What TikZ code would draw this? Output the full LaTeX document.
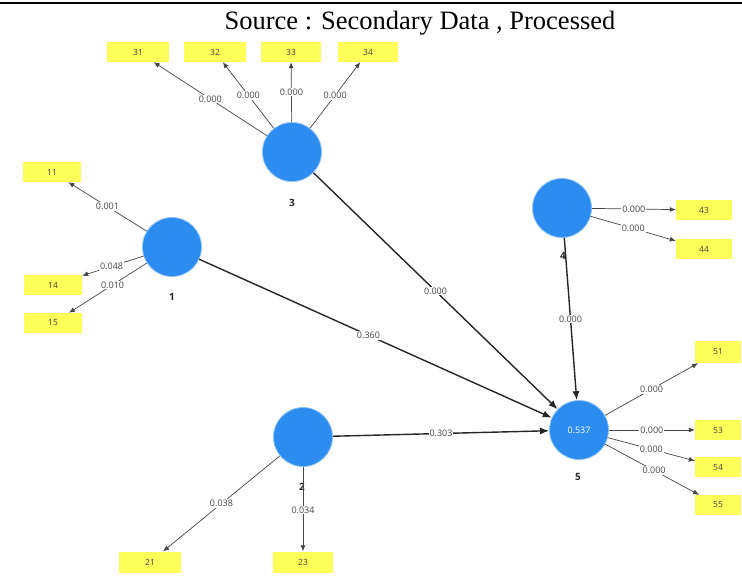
\documentclass[tikz,border=0pt]{standalone}
\usepackage{fontspec}
\setmainfont{Liberation Serif}
\newfontfamily\plsfont{Open Sans}
\usetikzlibrary{arrows.meta}
\definecolor{lvblue}{RGB}{45,140,240}
\definecolor{lvrim}{RGB}{140,195,250}
\definecolor{indyellow}{RGB}{255,255,90}
\definecolor{edgegray}{RGB}{70,70,70}
\begin{document}
\begin{tikzpicture}[x=1pt,y=-1pt,
  lv/.style={circle, fill=lvblue, draw=lvrim, line width=0.8pt, minimum size=59pt, inner sep=0pt},
  ind/.style={rectangle, fill=indyellow, minimum height=20pt, minimum width=58pt, inner sep=0pt,
              font=\plsfont\fontsize{8.5}{9}\selectfont, text=black!75},
  loadarrow/.style={draw=edgegray, line width=0.7pt, -{Latex[length=6pt,width=5pt]}},
  structarrow/.style={draw=black!85, line width=1.4pt, -{Latex[length=9pt,width=7pt]}},
  val/.style={fill=white, inner sep=1pt, font=\plsfont\fontsize{9}{10}\selectfont, text=black!72},
  lvname/.style={font=\plsfont\bfseries\fontsize{10}{11}\selectfont, text=black!85}]
\useasboundingbox (0,0) rectangle (742,577);
\fill[white] (0,0) rectangle (742,577);
\draw[line width=2.5pt] (0,3) -- (742,3);
\node[anchor=base, font=\fontsize{26.5}{28}\selectfont] (title) at (420,30) {Source : Secondary Data , Processed};

% latent variables
\node[lv] (c1) at (172,247) {};
\node[lv] (c2) at (303,437) {};
\node[lv] (c3) at (292,152) {};
\node[lv] (c4) at (562,208) {};
\node[lv, text=white, font=\plsfont\fontsize{9}{10}\selectfont] (c5) at (579,430) {0.537};

\node[lvname] (n1) at (172,297) {1};
\node[lvname] (n2) at (302,487) {2};
\node[lvname] (n3) at (292,203) {3};
\node[lvname] (n4) at (563,256) {4};
\node[lvname] (n5) at (578,477) {5};

% indicators
\node[ind, minimum width=62pt] (b31) at (138,52) {31};
\node[ind, minimum width=62pt] (b32) at (215,52) {32};
\node[ind, minimum width=60pt] (b33) at (291,52) {33};
\node[ind, minimum width=60pt] (b34) at (368,52) {34};
\node[ind] (b11) at (52,172) {11};
\node[ind] (b14) at (53,285) {14};
\node[ind] (b15) at (53,323) {15};
\node[ind, minimum width=56pt] (b43) at (704,210) {43};
\node[ind, minimum width=56pt] (b44) at (704,249) {44};
\node[ind, minimum width=46pt, minimum height=22pt] (b51) at (718,352) {51};
\node[ind, minimum width=46pt] (b53) at (718,430) {53};
\node[ind, minimum width=46pt] (b54) at (718,467) {54};
\node[ind, minimum width=46pt] (b55) at (718,505) {55};
\node[ind, minimum width=62pt, minimum height=21pt] (b21) at (150,562) {21};
\node[ind, minimum width=60pt, minimum height=21pt] (b23) at (303,562) {23};

% outer loadings
\draw[loadarrow] (c3) -- node[val] {0.000} (b31);
\draw[loadarrow] (c3) -- node[val] {0.000} (b32);
\draw[loadarrow] (c3) -- node[val] {0.000} (b33);
\draw[loadarrow] (c3) -- node[val] {0.000} (b34);
\draw[loadarrow] (c1) -- node[val] {0.001} (b11);
\draw[loadarrow] (c1) -- node[val, pos=0.52] {0.048} (b14);
\draw[loadarrow] (c1) -- node[val, pos=0.44] {0.010} (b15);
\draw[loadarrow] (c4) -- node[val] {0.000} (b43);
\draw[loadarrow] (c4) -- node[val] {0.000} (b44);
\draw[loadarrow] (c5) -- node[val] {0.000} (b51);
\draw[loadarrow] (c5) -- node[val] {0.000} (b53);
\draw[loadarrow] (c5) -- node[val] {0.000} (b54);
\draw[loadarrow] (c5) -- node[val, pos=0.52] {0.000} (b55);
\draw[loadarrow] (c2) -- node[val] {0.038} (b21);
\draw[loadarrow] (c2) -- node[val, pos=0.51] {0.034} (b23);

% structural paths
\draw[structarrow] (c1) -- node[val, pos=0.48] {0.360} (c5);
\draw[structarrow] (c3) -- node[val] {0.000} (c5);
\draw[structarrow] (c4) -- node[val] {0.000} (c5);
\draw[structarrow] (c2) -- node[val] {0.303} (c5);
\end{tikzpicture}
\end{document}
